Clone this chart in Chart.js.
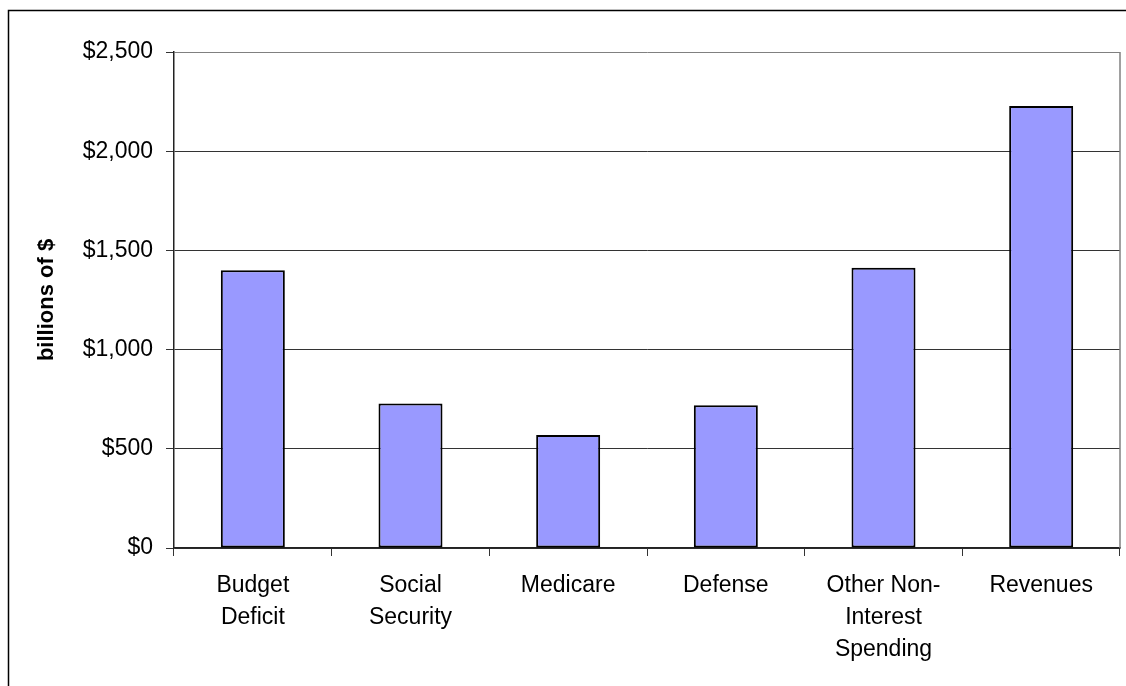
<!DOCTYPE html>
<html>
<head>
<meta charset="utf-8">
<script src="https://cdn.jsdelivr.net/npm/chart.js@4"></script>
<style>
  html, body { margin: 0; padding: 0; background: #fff; }
  canvas { display: block; }
</style>
</head>
<body>
<canvas id="myChart" width="1126" height="686"></canvas>
<script>
const categories = [
  ['Budget', 'Deficit'],
  ['Social', 'Security'],
  'Medicare',
  'Defense',
  ['Other Non-', 'Interest', 'Spending'],
  'Revenues',
];
const amounts = [1400, 728, 570, 720, 1412, 2228];
const yTicks = [0, 500, 1000, 1500, 2000, 2500];

const FONT = "'Liberation Sans', Arial, sans-serif";

// outer frame (top + left only, the rest is cropped) and the grey plot border on the right
const framePlugin = {
  id: 'frame',
  afterDraw(chart) {
    const { ctx, chartArea } = chart;
    ctx.save();
    ctx.strokeStyle = '#000';
    ctx.lineWidth = 1.5;
    ctx.beginPath();
    ctx.moveTo(8.5, 686);
    ctx.lineTo(8.5, 10.5);
    ctx.lineTo(1126, 10.5);
    ctx.stroke();
    ctx.strokeStyle = '#808080';
    ctx.lineWidth = 1.5;
    ctx.beginPath();
    ctx.moveTo(chartArea.right, chartArea.top);
    ctx.lineTo(chartArea.right, chartArea.bottom);
    ctx.stroke();
    ctx.restore();
  },
};

new Chart(document.getElementById('myChart').getContext('2d'), {
  type: 'bar',
  data: {
    labels: categories,
    datasets: [
      {
        data: amounts,
        backgroundColor: '#9999FF',
        borderColor: '#000',
        borderWidth: 2,
        borderSkipped: false,
        barPercentage: 0.406,
        categoryPercentage: 1,
      },
    ],
  },
  options: {
    responsive: false,
    animation: false,
    layout: {
      padding: { top: 52, right: 6, left: 0, bottom: 0 },
    },
    plugins: {
      legend: { display: false },
      tooltip: { enabled: false },
    },
    scales: {
      y: {
        min: 0,
        max: 2500,
        afterFit(scale) {
          scale.width = 174;
        },
        afterBuildTicks(scale) {
          scale.ticks = yTicks.map((v) => ({ value: v }));
        },
        border: { color: '#222', width: 1.5 },
        grid: {
          color(c) {
            return c.tick && c.tick.value === 2500 ? '#808080' : '#333';
          },
          tickColor: '#333',
          lineWidth: 1,
          tickLength: 8,
        },
        ticks: {
          padding: 13,
          color: '#000',
          font: { family: FONT, size: 23 },
          callback(v) {
            return `$${Number(v).toLocaleString('en-US')}`;
          },
        },
        title: {
          display: true,
          text: 'billions of $',
          color: '#000',
          font: { family: FONT, size: 22, weight: 'bold' },
          padding: { top: 34, bottom: 0 },
        },
      },
      x: {
        afterFit(scale) {
          scale.height = 138;
        },
        border: { color: '#222', width: 1.5 },
        grid: {
          offset: true,
          drawOnChartArea: false,
          drawTicks: true,
          tickLength: 8,
          tickColor: '#333',
          color: '#333',
        },
        ticks: {
          padding: 14,
          color: '#000',
          maxRotation: 0,
          autoSkip: false,
          font: { family: FONT, size: 23, lineHeight: 1.39 },
        },
      },
    },
  },
  plugins: [framePlugin],
});
</script>
</body>
</html>
